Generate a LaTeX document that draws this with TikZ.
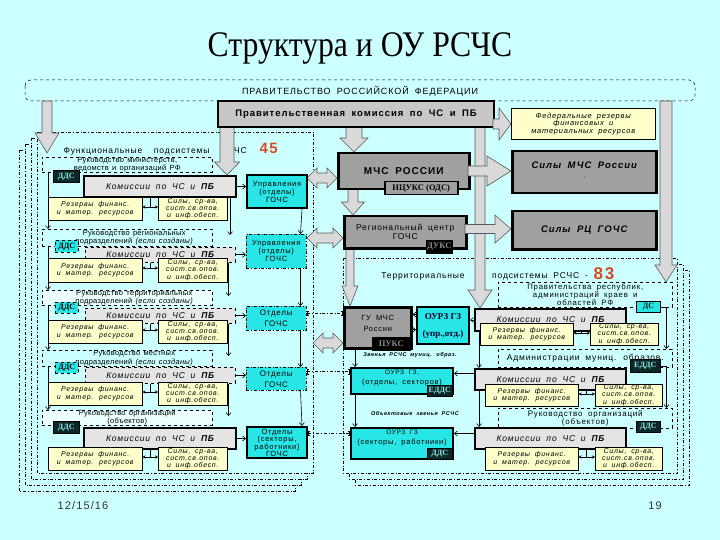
\documentclass[tikz,border=0pt]{standalone}
\usepackage{fontspec}
\setmainfont{Liberation Sans}[LetterSpace=10,WordSpace=1.8]
\newfontfamily\nsp{Liberation Sans}[LetterSpace=4,WordSpace=1.4]
\newfontfamily\serf{Liberation Serif}
\newfontfamily\ttl{Liberation Serif}
\usetikzlibrary{arrows.meta,calc}
\definecolor{bg}{RGB}{204,255,255}
\definecolor{cyb}{RGB}{40,230,230}
\definecolor{grb}{RGB}{160,160,160}
\definecolor{lgb}{RGB}{228,228,228}
\definecolor{ylb}{RGB}{255,255,204}
\definecolor{dkb}{RGB}{10,40,40}
\definecolor{lbt}{RGB}{150,230,230}
\definecolor{rdn}{RGB}{215,75,35}
\newcommand\fz[2]{\fontsize{#1}{#2}\selectfont}
\newcommand\komtxt{Комиссии по ЧС и \textbf{ПБ}}
\newcommand\reztxt{Резервы финанс.\\ и матер. ресурсов}
\newcommand\siltxt{Силы, ср-ва,\\ сист.св.опов.\\ и инф.обесп.}
\newcommand\mybox[7]{\pgfmathsetmacro\bw{#4-#2}\pgfmathsetmacro\bh{#5-#3}%
  \node[#6,anchor=north west,inner sep=0pt,minimum width=\bw pt,minimum height=\bh pt,align=center] (#1) at (#2,#3) {#7};}
\newcommand\dnarrow[6]{\filldraw[blk] (#1-#4,#2) -- (#1-#4,#3-#6) -- (#1-#5,#3-#6) -- (#1,#3) -- (#1+#5,#3-#6) -- (#1+#4,#3-#6) -- (#1+#4,#2) -- cycle;}
\newcommand\rtarrow[6]{\filldraw[blk] (#2,#1-#4) -- (#3-#6,#1-#4) -- (#3-#6,#1-#5) -- (#3,#1) -- (#3-#6,#1+#5) -- (#3-#6,#1+#4) -- (#2,#1+#4) -- cycle;}
\newcommand\dblarrow[6]{\filldraw[blk] (#2,#1) -- (#2+#6,#1-#5) -- (#2+#6,#1-#4) -- (#3-#6,#1-#4) -- (#3-#6,#1-#5) -- (#3,#1) -- (#3-#6,#1+#5) -- (#3-#6,#1+#4) -- (#2+#6,#1+#4) -- (#2+#6,#1+#5) -- cycle;}
\tikzset{
 ruk/.style={draw=black,dashed,line width=0.5pt,fill=bg,font=\nsp\fz{7.5}{7}},
 rukf/.style={ruk,fill=white!60!bg},
 rukr/.style={draw=black,dashed,line width=0.5pt,fill=bg,font=\fz{7.8}{7}},
 komT/.style={draw=black,line width=2pt,fill=lgb,font=\fz{8.5}{9}\itshape},
 komD/.style={draw=black,dashed,line width=0.5pt,fill=lgb,font=\fz{8.5}{9}\itshape},
 cyT/.style={draw=black,line width=2pt,fill=cyb,font=\fz{7.5}{8}},
 cyD/.style={draw=black,dash dot,line width=0.5pt,fill=cyb,font=\fz{7.5}{8}},
 yel/.style={draw=black,line width=0.5pt,fill=ylb,font=\fz{7}{7.3}\itshape},
 gry/.style={draw=black,line width=2.5pt,fill=grb},
 pkst/.style={draw=black,line width=2pt,fill=black!22,font=\bfseries\fz{9.5}{10}},
 dlab/.style={draw=black,line width=0.6pt,fill=dkb,text=lbt,font=\serf\bfseries\fz{8}{8}},
 clab/.style={draw=black,dashed,line width=0.5pt,fill=cyb,text=black,font=\serf\bfseries\fz{8}{8}},
 cdlab/.style={draw=black,line width=1.2pt,fill=cyb,text=dkb,font=\serf\bfseries\fz{8}{8}},
 blab/.style={draw=black,line width=0.6pt,fill=black,text=black!45,font=\serf\bfseries\fz{8.5}{8.5}},
 nlab/.style={draw=black,line width=1.5pt,fill=grb,text=black,font=\serf\bfseries\fz{8.5}{8.5}},
 blk/.style={fill=black!15,draw=black!65,line width=0.6pt},
 conn/.style={draw=black,line width=0.6pt,-{Straight Barb[length=3pt,width=5pt]}},
 dconn/.style={draw=black,line width=0.6pt,{Stealth[length=3pt,width=3pt]}-{Stealth[length=3pt,width=3pt]}},
 ddash/.style={draw=black,line width=0.6pt,dash dot,{Bracket[width=5pt,length=2pt]}-{Bracket[width=5pt,length=2pt]}},
 frm/.style={draw=black,line width=0.5pt,dash dot,fill=bg}
}
\begin{document}
\begin{tikzpicture}[x=1pt,y=-1pt]
\fill[bg] (0,0) rectangle (720,540);
\useasboundingbox (0,0) rectangle (720,540);
\node[anchor=base] (title) at (360,57) {\scalebox{0.88}[1]{\ttl\fz{36}{36}Структура и ОУ РСЧС}};
% frames
\foreach \d in {18,12,6,0} {\draw[frm] (37-\d,132+\d) rectangle (313-\d,473+\d);}
\foreach \d in {12,6,0} {\draw[frm] (343+\d,258+\d) rectangle (677+\d,473+\d);}
\draw[dashed,line width=0.5pt,rounded corners=6pt,fill=bg] (25,80) rectangle (695,101);
\node[font=\fz{9}{9}] (gov) at (360,91) {ПРАВИТЕЛЬСТВО РОССИЙСКОЙ ФЕДЕРАЦИИ};
% headers
\node[font=\fz{8.5}{9},anchor=west] (fhead) at (60,151) {Функциональные \ подсистемы \ РСЧС};
\node[font=\bfseries\fz{15}{15},text=rdn,anchor=west] (n45) at (256,148) {45};
\node[font=\fz{8.5}{9}] (thead1) at (423,276) {Территориальные};
\node[font=\fz{8.5}{9}] (thead2) at (540,276) {подсистемы РСЧС -};
\node[font=\bfseries\fz{17}{17},text=rdn] (n83) at (604,274) {83};
% long block arrows
\dnarrow{47}{101}{153}{5}{12}{20}
\dnarrow{666}{101}{282}{6}{11}{17}
\dnarrow{480}{126}{308}{5}{12}{18}
\dnarrow{227}{126}{175}{7}{12.5}{13}
\dnarrow{354}{126}{152}{8}{14}{14}
\dnarrow{353}{188}{215}{5}{11.5}{13}
\dnarrow{350}{247}{306}{4}{8}{20}
% top centre
\mybox{pk}{217}{100}{493}{126}{pkst}{Правительственная комиссия по ЧС и ПБ}
\mybox{fed}{511}{108}{655}{139}{yel,font=\fz{7.5}{7.5}\itshape}{Федеральные резервы\\ финансовых и\\ материальных ресурсов}
\mybox{mchs}{337}{152}{468}{188}{gry,font=\bfseries\fz{10}{10}}{МЧС РОССИИ}
\mybox{ncuks}{384}{181}{457}{194}{nlab}{НЦУКС (ОДС)}
\mybox{silm}{511}{150}{655}{192}{gry}{}
\node[font=\bfseries\itshape\fz{9.5}{10}] (silmt) at ($(silm.north)+(0,15)$) {Силы МЧС России};
\node[font=\fz{7}{7}] (silmd) at ($(silm.north)+(0,28)$) {.};
\mybox{rc}{343}{215}{465}{247}{gry,font=\fz{8.5}{9}}{Региональный центр\\ГОЧС}
\mybox{duks}{426}{240}{452}{253}{blab}{ДУКС}
\mybox{silrc}{511}{210}{655}{248}{gry,font=\bfseries\itshape\fz{9.5}{10}}{Силы РЦ ГОЧС}
\rtarrow{124}{493}{511}{5}{16}{12}
\rtarrow{171}{468}{511}{5}{15}{24}
\rtarrow{229}{465}{511}{4.5}{14}{16}
\dblarrow{178}{307}{337}{5}{10}{10}
\dblarrow{238}{307}{343}{5}{10}{10}
\dblarrow{343}{313}{343}{5}{10}{10}
% left rows
\mybox{ruk1}{42}{157}{212}{172}{ruk}{Руководство министерств,\\ ведомств и организаций РФ}
\mybox{kom1}{83}{175}{235}{196}{komT}{\komtxt}
\mybox{dds1}{53}{170}{79}{182}{dlab}{ДДС}
\mybox{g1}{246}{174}{306}{207}{cyT}{Управления\\(отделы)\\ГОЧС}
\mybox{rez1}{48}{197}{142}{220}{yel}{\reztxt}
\mybox{sil1}{158}{197}{227}{220}{yel}{\siltxt}
\mybox{ruk2}{42}{229}{212}{246}{ruk}{\hspace*{14pt}Руководство региональных\\ \hspace*{14pt}подразделений \textit{(если созданы)}}
\mybox{kom2}{85}{247}{235}{262}{komD}{\komtxt}
\mybox{dds2}{55}{240}{78}{252}{clab}{ДДС}
\mybox{g2}{246}{234}{306}{268}{cyD}{Управления\\(отделы)\\ГОЧС}
\mybox{rez2}{48}{258}{142}{282}{yel}{\reztxt}
\mybox{sil2}{158}{258}{227}{282}{yel}{\siltxt}
\mybox{ruk3}{42}{290}{212}{305}{rukf}{\hspace*{14pt}Руководство территориальных\\ \hspace*{14pt}подразделений \textit{(если созданы)}}
\mybox{kom3}{85}{308}{235}{323}{komD}{\komtxt}
\mybox{dds3}{55}{302}{78}{313}{clab}{ДДС}
\mybox{g3}{246}{306}{306}{330}{cyD,font=\fz{8}{11}}{Отделы\\ГОЧС}
\mybox{rez3}{48}{320}{142}{343}{yel}{\reztxt}
\mybox{sil3}{158}{320}{227}{343}{yel}{\siltxt}
\mybox{ruk4}{42}{350}{212}{366}{ruk}{\hspace*{14pt}Руководство местных\\ \hspace*{14pt}подразделений \textit{(если созданы)}}
\mybox{kom4}{85}{367}{235}{383}{komD}{\komtxt}
\mybox{dds4}{55}{362}{78}{373}{clab}{ДДС}
\mybox{g4}{246}{367}{306}{390}{cyD,font=\fz{8}{11}}{Отделы\\ГОЧС}
\mybox{rez4}{48}{382}{142}{405}{yel}{\reztxt}
\mybox{sil4}{158}{382}{227}{405}{yel}{\siltxt}
\mybox{ruk5}{42}{410}{212}{425}{rukf}{Руководство организаций\\(объектов)}
\mybox{kom5}{83}{427}{235}{448}{komT}{\komtxt}
\mybox{dds5}{53}{421}{79}{433}{dlab}{ДДС}
\mybox{g5}{246}{426}{306}{457}{cyT,font=\fz{7.5}{7}}{Отделы\\(секторы,\\работники)\\ГОЧС}
\mybox{rez5}{48}{447}{142}{470}{yel}{\reztxt}
\mybox{sil5}{158}{447}{227}{470}{yel}{\siltxt}
% territorial centre column
\mybox{gu}{343}{306}{410}{347}{gry}{}
\node[font=\fz{7.5}{11},align=center] (gut) at ($(gu.center)+(0,-4)$) {ГУ МЧС\\России};
\mybox{puks}{372}{337}{410}{350}{blab}{ПУКС}
\mybox{ou1}{416}{306}{468}{343}{cyT,font=\serf\bfseries\fz{9}{17},text=black!85!blue}{ОУРЗ ГЗ\\(упр.,отд.)}
\mybox{ou2}{350}{367}{452}{393}{cyT}{}
\node[align=center,font=\fz{7.5}{10}] (ou2t) at ($(ou2.center)+(0,-3)$) {{\fz{6.5}{10}ОУРЗ ГЗ,}\\(отделы, секторов)};
\mybox{edds1}{427}{385}{452}{396}{dlab}{ЕДДС}
\mybox{ou3}{350}{427}{452}{458}{cyT}{}
\node[align=center,font=\fz{7.5}{10}] (ou3t) at ($(ou3.center)+(0,-5)$) {{\fz{6.5}{10}ОУРЗ ГЗ}\\(секторы, работники)};
\mybox{dds6}{427}{448}{452}{459}{dlab}{ДДС}
\node[font=\bfseries\itshape\fz{5.5}{6}] (zv1) at (410,355) {Звенья РСЧС муниц. образ.};
\node[font=\bfseries\itshape\fz{5.5}{6}] (zv2) at (415,414) {Объектовые звенья РСЧС};
% territorial rows
\mybox{rt1}{498}{282}{672}{307}{rukr}{Правительства республик,\\ администраций краев и\\ областей РФ}
\mybox{kt1}{474}{308}{625}{330}{komT}{\komtxt}
\mybox{ds1}{636}{301}{660}{312}{cdlab}{ДС}
\mybox{rzt1}{480}{323}{573}{345}{yel}{\reztxt}
\mybox{slt1}{590}{323}{658}{345}{yel}{\siltxt}
\mybox{rt2}{498}{349}{672}{367}{rukr,font=\fz{8.5}{9}}{Администрации муниц. образов.}
\mybox{kt2}{474}{368}{625}{389}{komT}{\komtxt}
\mybox{edds2}{630}{359}{660}{372}{dlab}{ЕДДС}
\mybox{rzt2}{485}{384}{578}{406}{yel}{\reztxt}
\mybox{slt2}{595}{384}{662}{406}{yel}{\siltxt}
\mybox{rt3}{498}{408}{672}{428}{rukr,font=\fz{8}{8}}{Руководство организаций\\(объектов)}
\mybox{kt3}{474}{427}{625}{448}{komT}{\komtxt}
\mybox{dds7}{636}{421}{660}{432}{dlab}{ДДС}
\mybox{rzt3}{485}{447}{578}{470}{yel}{\reztxt}
\mybox{slt3}{595}{447}{662}{470}{yel}{\siltxt}
% left connectors
\foreach \i in {1,...,5} {
  \draw[conn] (kom\i.east) -- (kom\i.east -| g\i.west);
  \coordinate (m\i) at ($(rez\i.north east)!0.5!(sil\i.north west)+(0,10)$);
  \draw[line width=0.6pt] (m\i |- kom\i.south) -- (m\i);
  \draw[dconn] (m\i -| rez\i.east) -- (m\i -| sil\i.west);
}
\foreach \i/\j in {1/2,2/3,3/4,4/5} {
  \draw[conn] ([xshift=-6pt]g\i.south east) -- ([xshift=-6pt]g\j.north east);
  \draw[conn] ($(kom\i.south east)+(-7,0)$) -- ($(kom\i.south east |- ruk\j.north)+(-7,6)$);
  \draw[conn] ($(ruk\i.south west)+(6,0)$) -- ($(ruk\j.north west)+(6,0)$);
}
\draw[ddash] ($(g3.east)+(0,-5)$) -- ($(g3.east -| gu.west)+(0,-5)$);
\draw[ddash] ($(g4.east)+(0,-7)$) -- ($(g4.east -| ou2.west)+(0,-7)$);
\draw[ddash] ($(g5.east)+(0,-9)$) -- ($(g5.east -| ou3.west)+(0,-9)$);
% right connectors
\foreach \i in {1,2,3} {
  \coordinate (t\i) at ($(rzt\i.north east)!0.5!(slt\i.north west)+(0,10)$);
  \draw[line width=0.6pt] (t\i |- kt\i.south) -- (t\i);
  \draw[dconn] (t\i -| rzt\i.east) -- (t\i -| slt\i.west);
}
\draw[conn] (kt1.west) -- (kt1.west -| ou1.east);
\draw[conn] ($(kt2.west)+(0,-6)$) -- ($(kt2.west -| ou2.east)+(0,-6)$);
\draw[conn] ($(kt3.west)+(0,-5)$) -- ($(kt3.west -| ou3.east)+(0,-5)$);
\draw[conn] ($(ou1.west)+(0,-11)$) -- ($(ou1.west -| gu.east)+(0,-11)$);
\draw[conn] ($(gu.east)+(0,2)$) -- ($(gu.east -| ou1.west)+(0,2)$);
\draw[conn] ($(gu.south west)+(12,0)$) -- ($(ou2.north west)+(5,0)$);
\draw[conn] ($(ou2.south west)+(5,0)$) -- ($(ou3.north west)+(5,0)$);
\draw[conn] ($(kt1.south west)+(5,0)$) -- ($(kt2.north west)+(5,0)$);
\draw[conn] ($(kt2.south west)+(5,0)$) -- ($(kt3.north west)+(5,0)$);
\draw[conn] (ds1.east) -| ($(rt2.north east)+(-6,0)$);
\draw[conn] (edds2.east) -| ($(rt3.north east)+(-6,0)$);
% footer
\node[font=\fz{11}{11},text=black!80] (date) at (83,506) {12/15/16};
\node[font=\fz{11}{11},text=black!80] (page) at (655,506) {19};
\end{tikzpicture}
\end{document}
